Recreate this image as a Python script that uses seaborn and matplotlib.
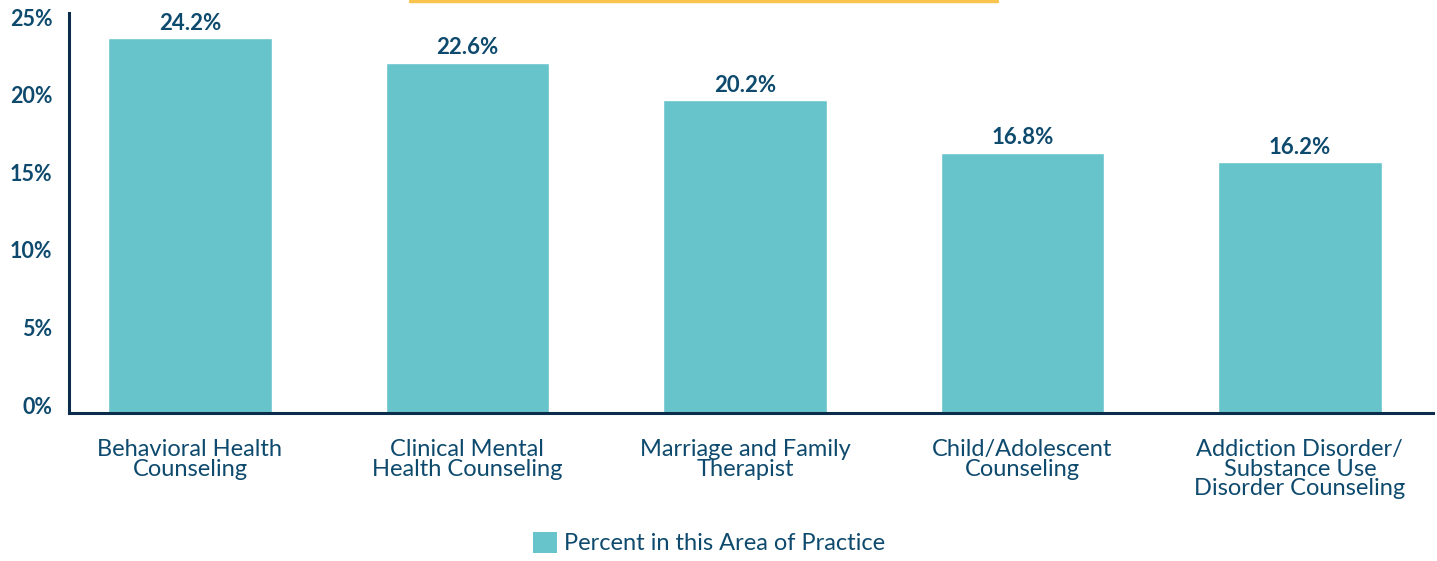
import seaborn as sns
import pandas as pd
import matplotlib.pyplot as plt
import matplotlib.transforms as mtransforms
from matplotlib.lines import Line2D
from matplotlib.patches import Patch

categories = [
    "Behavioral Health\nCounseling",
    "Clinical Mental\nHealth Counseling",
    "Marriage and Family\nTherapist",
    "Child/Adolescent\nCounseling",
    "Addiction Disorder/\nSubstance Use\nDisorder Counseling",
]
percent = [24.2, 22.6, 20.2, 16.8, 16.2]
yticks = [0, 5, 10, 15, 20, 25]
series_name = "Percent in this Area of Practice"

teal = "#67C4CB"
navy = "#0E4A6E"
spine = "#0B2D4B"

df = pd.DataFrame({"category": categories, "value": percent})

sns.set_theme(style="white")
plt.rcParams['font.family'] = ['Lato', 'DejaVu Sans']

fig = plt.figure(figsize=(14.37, 5.61), dpi=100)
ax = fig.add_axes([69 / 1437, 1 - 413 / 561, (1433 - 69) / 1437, 400 / 561])

sns.barplot(data=df, x="category", y="value", color=teal, saturation=1,
            width=0.59, ax=ax)

ax.set_xlim(-0.436, 4.48)
ax.set_ylim(0, 25.8)
ax.set_yticks(yticks)
ax.set_yticklabels([f"{v}%" for v in yticks])
ax.set_xlabel("")
ax.set_ylabel("")

for i, v in enumerate(percent):
    ax.annotate(f"{v}%", (i, v), xytext=(0, 3), textcoords="offset points",
                ha="center", va="bottom", fontsize=16, fontweight="bold", color=navy)

for s in ["top", "right"]:
    ax.spines[s].set_visible(False)
for s in ["left", "bottom"]:
    ax.spines[s].set_color(spine)
    ax.spines[s].set_linewidth(2.2)

ax.tick_params(axis="y", length=0, pad=12, labelsize=15.5, labelcolor=navy)
ax.tick_params(axis="x", length=0, pad=19, labelsize=17, labelcolor=navy)
for lab in ax.get_yticklabels():
    lab.set_fontweight("bold")
    lab.set_transform(lab.get_transform() + mtransforms.ScaledTranslation(0, 8 / 100, fig.dpi_scale_trans))
for lab in ax.get_xticklabels():
    lab.set_linespacing(0.9)

handle = Patch(facecolor=teal, edgecolor="none")
fig.legend([handle], [series_name], loc="center", bbox_to_anchor=(709 / 1437, 1 - 543 / 561),
           frameon=False, fontsize=17, labelcolor=navy, handlelength=1.0, handleheight=1.0,
           handletextpad=0.3)

fig.add_artist(Line2D([410 / 1437, 997 / 1437], [1 - 1 / 561, 1 - 1 / 561],
                      color="#F8C44E", linewidth=2.5, transform=fig.transFigure))

fig.savefig("out.png", dpi=100)
